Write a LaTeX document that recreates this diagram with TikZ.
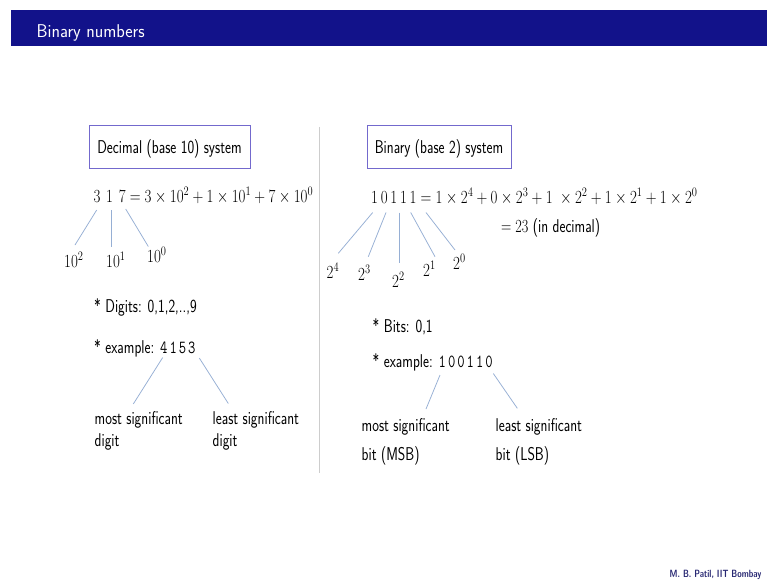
\RequirePackage{fix-cm}
\documentclass[tikz,border=0pt]{standalone}
\usepackage{graphicx}

\definecolor{barblue}{RGB}{18,18,138}
\definecolor{boxline}{RGB}{115,105,205}
\definecolor{connblue}{RGB}{150,175,212}
\definecolor{sepgrey}{RGB}{205,205,205}
\definecolor{footblue}{RGB}{40,40,115}

% condensed text, as on the slide
\newcommand{\sq}[1]{\scalebox{0.77}[1]{#1}}
\newcommand{\sqm}[1]{\scalebox{0.81}[1]{#1}}
\newcommand{\sqt}[1]{\scalebox{0.95}[1]{#1}}
\newcommand{\dgap}{\hspace{7pt}}
\newcommand{\bgap}{\hspace{3.4pt}}
\newcommand{\tgap}{\hspace{2.6pt}}

\begin{document}
\begin{tikzpicture}[x=1pt,y=-1pt,
  body/.style={font=\sffamily\fontsize{18.5}{22}\selectfont, inner sep=0pt, anchor=base west},
  sysbox/.style={draw=boxline, line width=0.9pt, inner sep=0pt,
    font=\sffamily\fontsize{18.5}{22}\selectfont, text height=14pt, text depth=0pt},
  conn/.style={draw=connblue, line width=0.75pt},
]
\useasboundingbox (0,0) rectangle (767,580);
\fill[white] (0,0) rectangle (767,580);

% title bar
\fill[barblue] (11,10) rectangle (767,46);
\node[inner sep=0pt, anchor=base west, text=white,
  font=\sffamily\fontsize{18.5}{21}\selectfont] (title) at (36.5,37.5) {\sqt{Binary numbers}};

% separator
\draw[sepgrey, line width=0.8pt] (319,127) -- (319,473);

% ---------------- decimal side ----------------
\node[sysbox, minimum width=161pt, minimum height=43pt] (decbox) at (169.5,146.5)
  {\sq{Decimal (base 10) system}};
\node[body] (deceq) at (93.5,202.5)
  {\sqm{$3\dgap1\dgap7 = 3\times10^2+1\times10^1+7\times10^0$}};

\node[body] (dp2) at (64,267) {\sqm{$10^2$}};
\node[body] (dp1) at (106,267) {\sqm{$10^1$}};
\node[body] (dp0) at (147,262) {\sqm{$10^0$}};

\coordinate (da) at (96.7,210);   \coordinate (dae) at (75,245);
\coordinate (db) at (111,210);    \coordinate (dbe) at (111,246.5);
\coordinate (dc) at (125.7,209);  \coordinate (dce) at (148.3,246.5);
\draw[conn] (da) -- (dae);
\draw[conn] (db) -- (dbe);
\draw[conn] (dc) -- (dce);

\node[body] (digits) at (94,312) {\sq{* Digits: 0,1,2,..,9}};
\node[body] (dex) at (94,353) {\sq{* example: {\ttfamily 4\tgap1\tgap5\tgap3}}};

\coordinate (dms) at (162.7,357.5); \coordinate (dmse) at (133.3,404);
\coordinate (dls) at (199.3,358);   \coordinate (dlse) at (228.3,403.5);
\draw[conn] (dms) -- (dmse);
\draw[conn] (dls) -- (dlse);

\node[body] (dmost1) at (94.5,424) {\sq{most significant}};
\node[body] (dmost2) at (94.5,446) {\sq{digit}};
\node[body] (dleast1) at (212.5,424) {\sq{least significant}};
\node[body] (dleast2) at (212.5,446) {\sq{digit}};

% ---------------- binary side ----------------
\node[sysbox, minimum width=144pt, minimum height=43pt] (binbox) at (439,146.5)
  {\sq{Binary (base 2) system}};
\node[body] (bineq) at (371,203.5)
  {\sqm{$1\bgap0\bgap1\bgap1\bgap1 = 1\times2^4+0\times2^3+1\hspace{5pt}\times2^2+1\times2^1+1\times2^0$}};
\node[body] (bindec) at (501,232.5) {\sq{$=23$ (in decimal)}};

\node[body] (bp4) at (326.5,278) {\sqm{$2^4$}};
\node[body] (bp3) at (358,280.5) {\sqm{$2^3$}};
\node[body] (bp2) at (392,287.5) {\sqm{$2^2$}};
\node[body] (bp1) at (423,276) {\sqm{$2^1$}};
\node[body] (bp0) at (453,269) {\sqm{$2^0$}};

\coordinate (ba) at (372.7,212.5); \coordinate (bae) at (338.3,253.3);
\coordinate (bb) at (386,212.5);   \coordinate (bbe) at (368.3,256.7);
\coordinate (bc) at (399,212.5);   \coordinate (bce) at (399,263);
\coordinate (bd) at (410.7,212.5); \coordinate (bde) at (435,256.7);
\coordinate (be) at (426,212.5);   \coordinate (bee) at (455,250);
\draw[conn] (ba) -- (bae);
\draw[conn] (bb) -- (bbe);
\draw[conn] (bc) -- (bce);
\draw[conn] (bd) -- (bde);
\draw[conn] (be) -- (bee);

\node[body] (bits) at (372.5,332.5) {\sq{* Bits: 0,1}};
\node[body] (bex) at (372.5,367) {\sq{* example: {\ttfamily 1\tgap0\tgap0\tgap1\tgap1\tgap0}}};

\coordinate (bms) at (440,375);   \coordinate (bmse) at (426,409);
\coordinate (bls) at (493.3,373.5); \coordinate (blse) at (517.3,408.3);
\draw[conn] (bms) -- (bmse);
\draw[conn] (bls) -- (blse);

\node[body] (bmost1) at (361.5,431.5) {\sq{most significant}};
\node[body] (bmost2) at (361.5,460) {\sq{bit (MSB)}};
\node[body] (bleast1) at (495.5,431.5) {\sq{least significant}};
\node[body] (bleast2) at (495.5,460) {\sq{bit (LSB)}};

% footer
\node[inner sep=0pt, anchor=base west, text=footblue,
  font=\sffamily\bfseries\fontsize{10.5}{12}\selectfont] (foot) at (669.5,577)
  {\sq{M. B. Patil, IIT Bombay}};
\end{tikzpicture}
\end{document}
